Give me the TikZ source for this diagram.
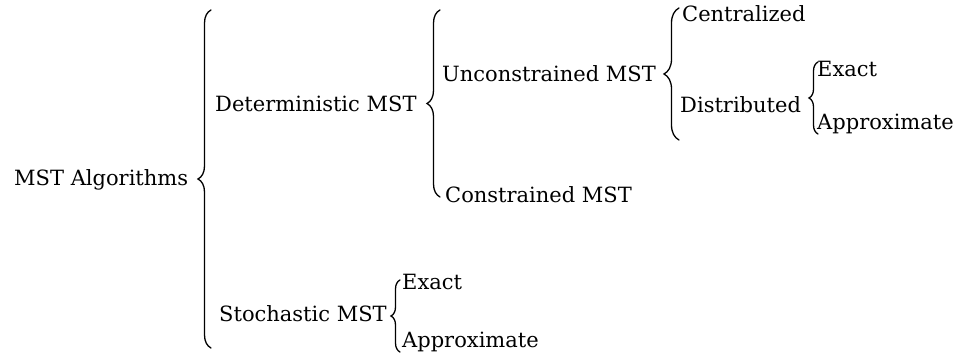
\documentclass[tikz,border=0pt]{standalone}
\usepackage{fontspec}
\setmainfont{DejaVu Serif}
\usetikzlibrary{decorations.pathreplacing}
\begin{document}
\begin{tikzpicture}[x=1pt,y=1pt,
  lbl/.style={anchor=base west, inner sep=0pt, font=\fontsize{21}{24}\selectfont},
  curly/.style={decorate, decoration={brace, amplitude=#1}, line width=1.3pt, line cap=round}
]
\useasboundingbox (0,0) rectangle (968,358);
% labels
\node[lbl] (alg) at (14,172) {MST Algorithms};
\node[lbl] (det) at (215,246) {Deterministic MST};
\node[lbl] (sto) at (219,36) {Stochastic MST};
\node[lbl] (unc) at (442,276) {Unconstrained MST};
\node[lbl] (con) at (445,155) {Constrained MST};
\node[lbl] (cen) at (682,336) {Centralized};
\node[lbl] (dis) at (680,245) {Distributed};
\node[lbl] (exa) at (817,281) {Exact};
\node[lbl] (apa) at (817,228) {Approximate};
\node[lbl] (exb) at (402,68) {Exact};
\node[lbl] (apb) at (402,10) {Approximate};
% brace end points
\coordinate (b1s) at (211,10);  \coordinate (b1e) at (211,348);
\coordinate (b2s) at (440,161); \coordinate (b2e) at (440,348);
\coordinate (b3s) at (679,218); \coordinate (b3e) at (679,350);
\coordinate (b4s) at (818,224); \coordinate (b4e) at (818,296);
\coordinate (b5s) at (400,6);   \coordinate (b5e) at (400,78);
% braces
\draw[curly=13] (b1s) -- (b1e);
\draw[curly=13] (b2s) -- (b2e);
\draw[curly=15] (b3s) -- (b3e);
\draw[curly=9] (b4s) -- (b4e);
\draw[curly=9] (b5s) -- (b5e);
\end{tikzpicture}
\end{document}
